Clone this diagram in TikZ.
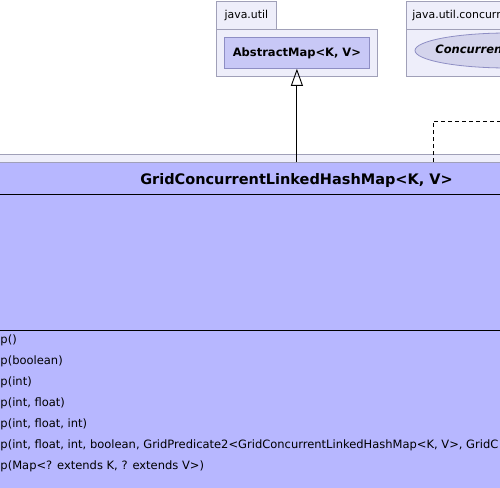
\documentclass[tikz,border=0pt]{standalone}
\usepackage{fontspec}
\setmainfont{DejaVu Sans}
\usetikzlibrary{arrows.meta,shapes.geometric}
\definecolor{pkgfill}{HTML}{EEEEFA}
\definecolor{pkgdraw}{HTML}{A0A0B8}
\definecolor{clsfill}{HTML}{B7B7FF}
\definecolor{innerfill}{HTML}{C8C8F6}
\definecolor{innerdraw}{HTML}{8E8EC4}
\definecolor{ellfill}{HTML}{D4D4EC}
\begin{document}
\begin{tikzpicture}[x=1pt,y=-1pt,
  pkgtab/.style={draw=pkgdraw,fill=pkgfill,line width=0.8pt,anchor=north west,inner sep=0pt,
    font=\fontsize{10.9}{12}\selectfont,minimum height=28pt},
  pkgbody/.style={draw=pkgdraw,fill=pkgfill,line width=0.8pt,anchor=north west,inner sep=0pt},
  innerbox/.style={draw=innerdraw,fill=innerfill,line width=0.8pt,anchor=north west,inner sep=0pt,
    font=\fontsize{11.5}{13}\bfseries\selectfont},
  ifacebox/.style={ellipse,draw=innerdraw,fill=ellfill,line width=0.8pt,inner sep=0pt},
  ifacetext/.style={inner sep=0pt,font=\fontsize{11.5}{13}\bfseries\itshape\selectfont},
  clsbox/.style={draw=pkgdraw,fill=clsfill,line width=0.8pt,anchor=north west,inner sep=0pt},
  septitle/.style={draw=black,line width=0.9pt},
  meth/.style={anchor=west,inner sep=0pt,text height=8.5pt,text depth=2.5pt,
    font=\fontsize{11.5}{13}\selectfont},
  generalize/.style={draw=black,line width=0.9pt,-{Triangle[open,length=17pt,width=12pt]}},
  realize/.style={draw=black,line width=0.9pt,dash pattern=on 4pt off 3pt,
    -{Triangle[open,length=17pt,width=12pt]}}
]
\useasboundingbox (0,0) rectangle (500,487);
\clip (0,0) rectangle (500,487);
\fill[white] (0,0) rectangle (500,487);

% package java.util
\node[pkgtab,minimum width=60pt] (utiltab) at (216,1) {java.util};
\node[pkgbody,minimum width=161pt,minimum height=47pt] (utilbody) at (216,29) {};
\node[innerbox,minimum width=145pt,minimum height=31pt] (am) at (224,37) {AbstractMap<K, V>};

% package java.util.concurrent
\node[pkgtab,minimum width=118pt] (conctab) at (406,1) {java.util.concurrent};
\node[pkgbody,minimum width=220pt,minimum height=47pt] (concbody) at (406,29) {};
\node[ifacebox,minimum width=186pt,minimum height=35pt] (cm) at (508,50.5) {};
\node[ifacetext] (cmtext) at (cm.center) {ConcurrentMap<K, V>};

% enclosing package
\node[pkgbody,minimum width=540pt,minimum height=400pt] (outer) at (-20,154) {};

% class
\node[clsbox,minimum width=794pt,minimum height=400pt] (cls) at (-100.5,162) {};
\node[font=\fontsize{14.5}{16}\bfseries\selectfont,inner sep=0pt] (title) at (296.5,180) {GridConcurrentLinkedHashMap<K, V>};
\coordinate (s1l) at (-100,194);
\coordinate (s1r) at (600,194);
\coordinate (s2l) at (-100,330);
\coordinate (s2r) at (600,330);
\draw[septitle] (s1l) -- (s1r);
\draw[septitle] (s2l) -- (s2r);

\node[meth] (m1) at (0.3,340.7) {p()};
\node[meth] (m2) at (0.3,361.7) {p(boolean)};
\node[meth] (m3) at (0.3,382.7) {p(int)};
\node[meth] (m4) at (0.3,403.5) {p(int, float)};
\node[meth] (m5) at (0.3,424.7) {p(int, float, int)};
\node[meth] (m6) at (0.3,445.7) {p(int, float, int, boolean, GridPredicate2<GridConcurrentLinkedHashMap<K, V>, GridC};
\node[meth] (m7) at (0.3,466.7) {p(Map<? extends K, ? extends V>)};

% connectors
\draw[generalize] (cls.north -| am.south) -- (am.south);
\coordinate (dstart) at (433,162);
\coordinate (bend) at (433,121);
\draw[realize] (dstart) -- (bend) -- (bend -| cm.-75) -- (cm.-75);
\end{tikzpicture}
\end{document}
